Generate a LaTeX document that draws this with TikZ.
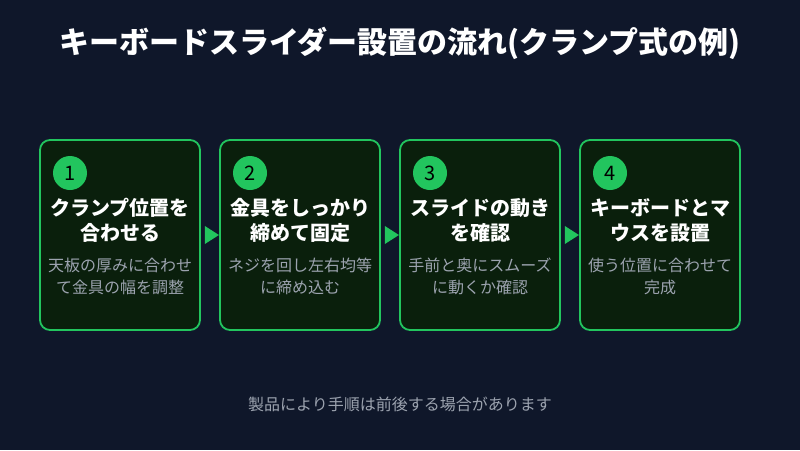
\documentclass[tikz,border=0pt]{standalone}
\usepackage{fontspec}
\setmainfont{Noto Sans CJK JP}
\begin{document}
\begin{tikzpicture}[x=1pt,y=-1pt,
 box/.style={draw=stepgreen,line width=1.8pt,fill=boxfill,rounded corners=10pt,minimum width=160pt,minimum height=190pt,inner sep=0pt},
 num/.style={circle,fill=stepgreen,minimum size=34pt,inner sep=0pt,font=\fontsize{20}{22}\selectfont,text=black},
 head/.style={text=white,font=\fontsize{20}{25}\selectfont\bfseries,align=center},
 desc/.style={text=descgray,font=\fontsize{16}{22}\selectfont,align=center},
 arr/.style={fill=stepgreen,draw=none}]
\definecolor{bg}{HTML}{0F172A}
\definecolor{boxfill}{HTML}{0A1F0C}
\definecolor{stepgreen}{HTML}{22C55E}
\definecolor{descgray}{HTML}{9CA3AF}
\useasboundingbox[fill=bg] (0,0) rectangle (800,450);
\node[text=white,font=\fontsize{30}{34}\selectfont\bfseries] (title) at (400,43) {キーボードスライダー設置の流れ(クランプ式の例)};
\foreach \i/\h/\d in {1/{クランプ位置を\\合わせる}/{天板の厚みに合わせ\\て金具の幅を調整},
 2/{金具をしっかり\\締めて固定}/{ネジを回し左右均等\\に締め込む},
 3/{スライドの動き\\を確認}/{手前と奥にスムーズ\\に動くか確認},
 4/{キーボードとマ\\ウスを設置}/{使う位置に合わせて\\完成}}{
 \pgfmathsetmacro{\cx}{120+180*(\i-1)}
 \node[box] (b\i) at (\cx,235) {};
 \node[num] (n\i) at (\cx-50,173) {\i};
 \node[head] (h\i) at (\cx,220) {\h};
 \node[desc] (d\i) at (\cx,276) {\d};
}
\foreach \i in {1,2,3}{
 \path[arr] ([xshift=4pt]b\i.east) ++(0,-9) coordinate (t\i) -- ++(14,9) -- ++(-14,9) -- cycle;
}
\node[text=descgray,font=\fontsize{16}{18}\selectfont] (foot) at (400,404) {製品により手順は前後する場合があります};
\end{tikzpicture}
\end{document}
